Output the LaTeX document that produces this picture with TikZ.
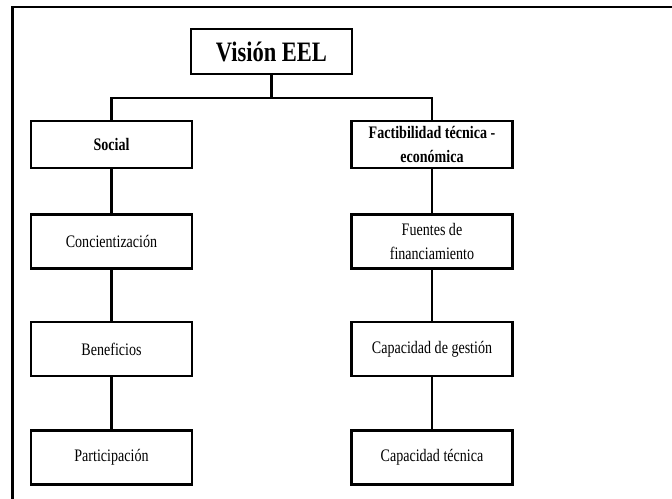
\documentclass[tikz,border=0pt]{standalone}
\usepackage{fontspec}
\setmainfont[FakeStretch=0.8]{Liberation Serif}
\usetikzlibrary{positioning}

\begin{document}
\begin{tikzpicture}[
    box/.style={draw, line width=1.4pt, minimum width=3.22cm, minimum height=1.08cm,
                align=center, font=\fontsize{10}{13.6}\selectfont, inner sep=2pt},
    head/.style={box, minimum height=0.94cm, font=\fontsize{10}{13.6}\selectfont\bfseries},
    link/.style={line width=1.4pt}
  ]
        \useasboundingbox (0,0) rectangle (13.44,-9.98);
        \draw[line width=1.3pt] (0.25,-9.98) |- (13.44,-0.14);

        \node[box, minimum height=0.9cm, font=\fontsize{16}{18}\selectfont\bfseries]
             (vision) at (5.43,-1.03) {Visión EEL};
        \node[head] (social) at (2.23,-2.89) {Social};
        \node[head] (fact)   at (8.64,-2.89) {Factibilidad técnica -\\económica};

        \node[box, below=0.88cm of social] (conc)  {Concientización};
        \node[box, below=1.02cm of conc]   (benef) {Beneficios};
        \node[box, below=1.04cm of benef]  (part)  {Participación};

        \node[box, below=0.88cm of fact]   (fuentes) {Fuentes de\\financiamiento};
        \node[box, below=1.02cm of fuentes] (gestion) {Capacidad de gestión};
        \node[box, below=1.04cm of gestion] (tecnica) {Capacidad técnica};

        \draw[link] (vision.south) -- ++(0,-0.46) coordinate (bar);
        \draw[link] (bar) -| (social.north);
        \draw[link] (bar) -| (fact.north);
        \draw[link] (social) -- (conc);
        \draw[link] (conc) -- (benef);
        \draw[link] (benef) -- (part);
        \draw[link] (fact) -- (fuentes);
        \draw[link] (fuentes) -- (gestion);
        \draw[link] (gestion) -- (tecnica);
      \end{tikzpicture}
\end{document}
